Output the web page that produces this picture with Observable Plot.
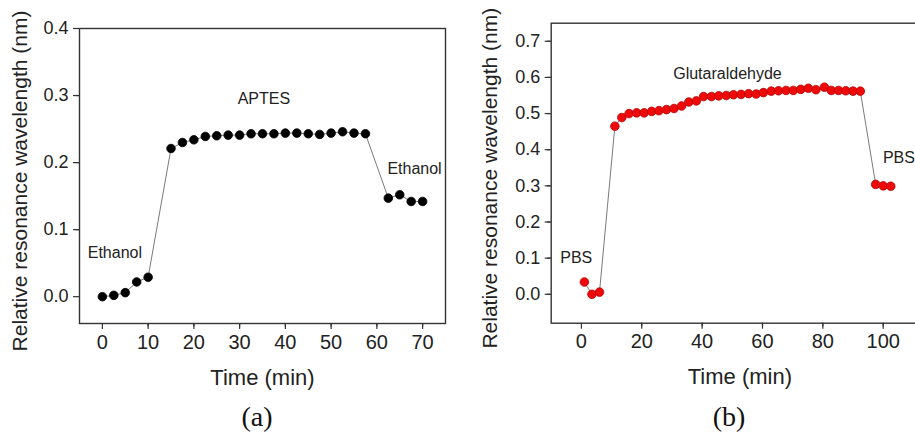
<!DOCTYPE html>
<html>
<head>
<meta charset="utf-8">
<script src="https://cdn.jsdelivr.net/npm/d3@7"></script>
<script src="https://cdn.jsdelivr.net/npm/@observablehq/plot@0.6"></script>
<style>
  html, body { margin: 0; padding: 0; background: #fff; overflow: hidden; }
  #wrap { position: relative; width: 915px; height: 435px; overflow: hidden; }
  .panel { position: absolute; top: 0; }
  .panel svg { max-width: none !important; display: block; }
  .cap { position: absolute; font-family: "Liberation Serif", "Times New Roman", serif; font-size: 28px; line-height: 30px; color: #111; transform: translate(-50%, -50%); white-space: nowrap; }
</style>
</head>
<body>
<div id="wrap">
  <div id="pa" class="panel" style="left:0px; width:460px"></div>
  <div id="pb" class="panel" style="left:470px; width:468px"></div>
  <div class="cap" style="left:257px; top:417px">(a)</div>
  <div class="cap" style="left:729px; top:417px">(b)</div>
</div>
<script>
// ---- Panel (a): APTES ----
const timeA = [0, 2.5, 5, 7.5, 10, 15, 17.5, 20, 22.5, 25, 27.5, 30, 32.5, 35, 37.5, 40, 42.5, 45, 47.5, 50, 52.5, 55, 57.5, 62.5, 65, 67.5, 70];
const shiftA = [0.000, 0.002, 0.006, 0.022, 0.029, 0.221, 0.230, 0.234, 0.239, 0.240, 0.241, 0.241, 0.243, 0.243, 0.243, 0.244, 0.244, 0.243, 0.242, 0.244, 0.246, 0.244, 0.243, 0.147, 0.152, 0.142, 0.142];
const labelsA = ["Ethanol", "APTES", "Ethanol"];
const labelXA = [-3.2, 35.3, 62.3];
const labelYA = [0.066, 0.295, 0.19];
const labelAnchorA = ["start", "middle", "start"];

// ---- Panel (b): Glutaraldehyde ----
const timeB = [1, 3.5, 6, 11.1, 13.4, 15.8, 18.3, 20.8, 23.3, 25.7, 28.2, 30.7, 33.2, 35.6, 38.1, 40.5, 43.1, 45.5, 48.0, 50.4, 52.9, 55.4, 57.9, 60.3, 62.9, 65.3, 67.8, 70.2, 72.7, 75.2, 77.7, 80.5, 82.8, 85.2, 87.6, 90.0, 92.4, 97.5, 100, 102.5];
const shiftB = [0.034, 0.000, 0.006, 0.465, 0.489, 0.500, 0.502, 0.502, 0.506, 0.508, 0.511, 0.514, 0.521, 0.532, 0.535, 0.547, 0.547, 0.549, 0.550, 0.552, 0.553, 0.555, 0.554, 0.558, 0.562, 0.563, 0.564, 0.564, 0.567, 0.570, 0.566, 0.573, 0.564, 0.564, 0.563, 0.562, 0.562, 0.304, 0.300, 0.299];
const labelsB = ["PBS", "Glutaraldehyde", "PBS"];
const labelXB = [-7.0, 48.4, 99.9];
const labelYB = [0.102, 0.61, 0.377];
const labelAnchorB = ["start", "middle", "start"];

const yTitle = "Relative resonance wavelength (nm)";
const xTitle = "Time (min)";

const dataA = timeA.map((t, i) => ({t, v: shiftA[i]}));
const dataB = timeB.map((t, i) => ({t, v: shiftB[i]}));
const annA = labelsA.map((s, i) => ({s, x: labelXA[i], y: labelYA[i], a: labelAnchorA[i]}));
const annB = labelsB.map((s, i) => ({s, x: labelXB[i], y: labelYB[i], a: labelAnchorB[i]}));

const font = "'Liberation Sans', Arial, Helvetica, sans-serif";
const ink = "#222";

function panel(opts) {
  const {data, ann, width, mL, mR, mT, mB, xDomain, yDomain, xMajor, xMinor, yMajor, yMinor, fill, stroke, yLabelDx, yLabelDy} = opts;
  const height = 380;
  return Plot.plot({
    width, height,
    marginLeft: mL, marginRight: mR, marginTop: mT, marginBottom: mB,
    style: {fontFamily: font, color: ink, background: "transparent", overflow: "visible", maxWidth: "none"},
    x: {domain: xDomain, axis: null},
    y: {domain: yDomain, axis: null},
    marks: [
      Plot.axisX(xMinor, {tickSize: 3.5, tickFormat: () => "", label: null, stroke: "#333", strokeWidth: 1.2}),
      Plot.axisX(xMajor, {tickSize: 6, tickPadding: 5, fontSize: 20, label: null, stroke: "#333", strokeWidth: 1.2, fill: ink}),
      Plot.axisY(yMinor, {tickSize: 3.5, tickFormat: () => "", label: null, stroke: "#333", strokeWidth: 1.2}),
      Plot.axisY(yMajor, {tickSize: 6, tickPadding: 5, fontSize: 18, tickFormat: d3.format(".1f"), label: null, stroke: "#333", strokeWidth: 1.2, fill: ink}),
      Plot.frame({stroke: "#333", strokeWidth: 1.4}),
      Plot.line(data, {x: "t", y: "v", stroke: "#7a7a7a", strokeWidth: 1}),
      Plot.dot(data, {x: "t", y: "v", r: 4.3, fill, stroke, strokeWidth: 0.8}),
      Plot.text(ann.filter(d => d.a === "start"), {x: "x", y: "y", text: "s", textAnchor: "start", fontSize: 16, fill: ink}),
      Plot.text(ann.filter(d => d.a === "middle"), {x: "x", y: "y", text: "s", textAnchor: "middle", fontSize: 16, fill: ink}),
      Plot.text([xTitle], {frameAnchor: "bottom", dy: 54, fontSize: 22, fill: ink, textAnchor: "middle", lineAnchor: "middle"}),
      Plot.text([yTitle], {frameAnchor: "left", dx: yLabelDx, dy: yLabelDy, rotate: -90, fontSize: 21, fill: ink, textAnchor: "middle", lineAnchor: "middle"})
    ]
  });
}

const range = (a, b, s) => d3.range(Math.round(a / s), Math.round(b / s) + 1).map(k => +(k * s).toFixed(6));

document.getElementById("pa").appendChild(panel({
  data: dataA, ann: annA,
  width: 460, mL: 79, mR: 15, mT: 28, mB: 57,
  xDomain: [-5, 75], yDomain: [-0.04, 0.4],
  xMajor: range(0, 70, 10), xMinor: range(5, 65, 10),
  yMajor: range(0, 0.4, 0.1), yMinor: range(0.05, 0.35, 0.1),
  fill: "#000", stroke: "#000",
  yLabelDx: -59, yLabelDy: 5
}));

document.getElementById("pb").appendChild(panel({
  data: dataB, ann: annB,
  width: 468, mL: 80.7, mR: 10, mT: 22.7, mB: 57.3,
  xDomain: [-10, 115], yDomain: [-0.08, 0.75],
  xMajor: range(0, 100, 20), xMinor: range(10, 110, 20),
  yMajor: range(0, 0.7, 0.1), yMinor: range(-0.05, 0.65, 0.1),
  fill: "#ee0a0a", stroke: "#b80000",
  yLabelDx: -60.7, yLabelDy: 5
}));
</script>
</body>
</html>
